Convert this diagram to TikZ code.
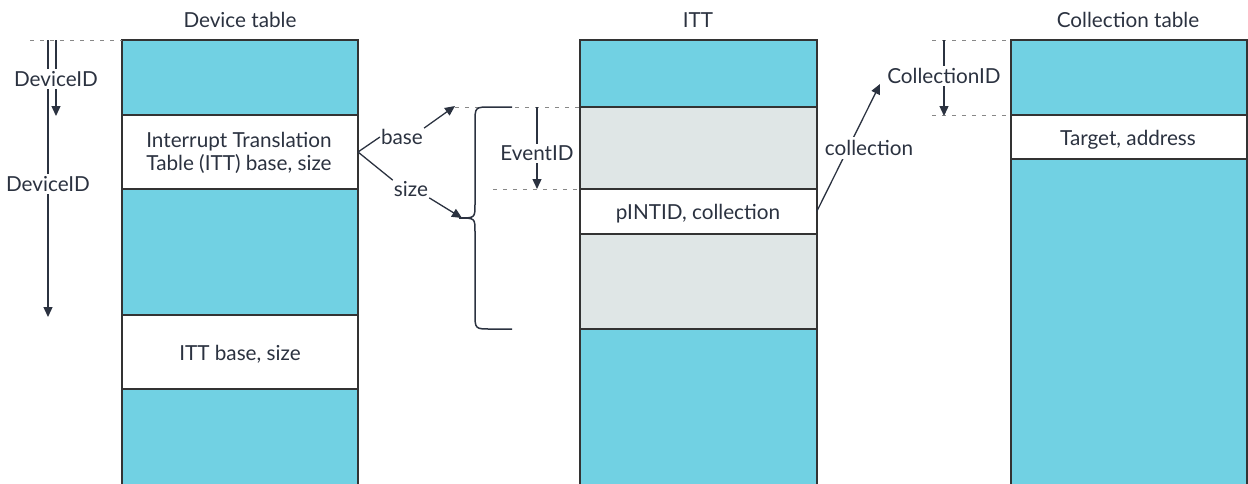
\documentclass[tikz,border=0pt]{standalone}
\usepackage{fontspec}
\setmainfont{Lato}
\usetikzlibrary{arrows.meta}
\definecolor{cy}{HTML}{71D1E3}
\definecolor{gr}{HTML}{DFE6E6}
\definecolor{bd}{HTML}{333333}
\definecolor{tx}{HTML}{2B3240}
\definecolor{dsh}{HTML}{888888}
\begin{document}
\begin{tikzpicture}[x=1pt,y=-1pt,
  every node/.style={font=\fontsize{20.7}{24}\selectfont,text=tx},
  seg/.style={draw=bd,line width=2pt,inner sep=0pt},
  arr/.style={draw=tx,line width=1.3pt,-{Triangle[length=10pt,width=9pt]}},
  ln/.style={draw=tx,line width=1.3pt},
  dl/.style={draw=dsh,line width=1pt,dash pattern=on 4pt off 6pt},
  lbl/.style={fill=white,inner sep=2pt}]
\useasboundingbox (0,0) rectangle (1248,483);
% Device table
\node (dt) at (240,20) {Device table};
\path[seg,fill=cy] (122,40) rectangle (358,115);
\path[seg,fill=white] (122,115) rectangle (358,189);
\path[seg,fill=cy] (122,189) rectangle (358,315);
\path[seg,fill=white] (122,315) rectangle (358,389);
\path[seg,fill=cy] (122,389) rectangle (358,490);
\node[align=center] (itte) at (239,153) {Interrupt Translation\\[-1pt]Table (ITT) base, size};
\node (itt2) at (240,354) {ITT base, size};
% ITT
\node (itt) at (698,20) {ITT};
\path[seg,fill=cy] (580,40) rectangle (817,107);
\path[seg,fill=gr] (580,107) rectangle (817,189);
\path[seg,fill=white] (580,189) rectangle (817,234);
\path[seg,fill=gr] (580,234) rectangle (817,329);
\path[seg,fill=cy] (580,329) rectangle (817,490);
\node (pint) at (698,214) {pINTID, collection};
% Collection table
\node (ct) at (1128,20) {Collection table};
\path[seg,fill=cy] (1011,40) rectangle (1247,115);
\path[seg,fill=white] (1011,115) rectangle (1247,159);
\path[seg,fill=cy] (1011,159) rectangle (1247,490);
\node (ta) at (1128,140) {Target, address};
% DeviceID arrows
\draw[dl] (30,40) -- (122,40);
\coordinate (d1s) at (56,40); \coordinate (d1e) at (56,116);
\coordinate (d2s) at (48,40); \coordinate (d2e) at (48,317);
\draw[arr] (d1s) -- (d1e);
\draw[arr] (d2s) -- (d2e);
\node[lbl] (dev1) at (56,79) {DeviceID};
\node[lbl] (dev2) at (48,184) {DeviceID};
% base / size
\coordinate (src) at (358,152);
\node[inner sep=1pt] (base) at (402,137) {base};
\node[inner sep=1pt] (size) at (411,189) {size};
\coordinate (bt) at (455,106);
\coordinate (st) at (462,218);
\draw[ln] (src) -- (base.west);
\draw[ln] (src) -- (size.north west);
\draw[arr] (base.north east) -- (bt);
\draw[arr] (size.south east) -- (st);
% dashed lines for EventID
\draw[dl] (455,107) -- (580,107);
\draw[dl] (493,189) -- (580,189);
\draw[arr] (537,107) -- (537,189);
\node[lbl] (ev) at (537,153) {EventID};
% brace
\draw[draw=tx,line width=1.5pt] (512,107) -- (491,107) .. controls (475,107) .. (475,123) -- (475,204) .. controls (475,218) .. (459,218);
\draw[draw=tx,line width=1.5pt] (459,218) .. controls (475,218) .. (475,232) -- (475,313) .. controls (475,329) .. (491,329) -- (512,329);
% collection
\coordinate (cs) at (817,211);
\coordinate (ce) at (880,84);
\draw[arr] (cs) -- (ce);
\node[lbl,inner sep=3pt] (col) at (869,148) {collection};
% CollectionID
\draw[dl] (932,40) -- (1011,40);
\draw[dl] (932,115) -- (1011,115);
\draw[arr] (944,40) -- (944,116);
\node[lbl] (cid) at (944,76) {CollectionID};
\end{tikzpicture}
\end{document}
